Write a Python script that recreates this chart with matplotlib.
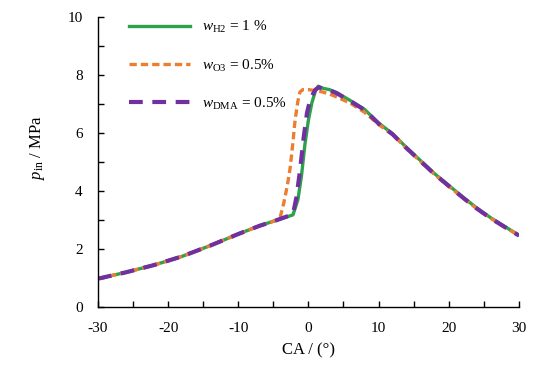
import matplotlib
matplotlib.use("Agg")
import matplotlib.pyplot as plt

plt.rcParams["font.family"] = "Liberation Serif"
plt.rcParams["mathtext.fontset"] = "custom"
plt.rcParams["mathtext.rm"] = "Liberation Serif"
plt.rcParams["mathtext.it"] = "Liberation Serif:italic"
plt.rcParams["axes.unicode_minus"] = False

# crank angle (deg) and in-cylinder pressure (MPa)
ca_h2 = [-30, -26, -22, -18, -14, -10, -7, -4.5, -2.2, -1.5, -1.0, -0.5, 0, 0.5, 1.0, 1.4,
         2, 3, 4, 6, 8, 10, 12, 14, 16, 18, 20, 22, 24, 26, 28, 30]
p_h2 = [0.98, 1.2, 1.45, 1.75, 2.12, 2.52, 2.8, 3.0, 3.18, 3.7, 4.5, 5.6, 6.45, 7.05, 7.45, 7.62,
        7.55, 7.5, 7.4, 7.12, 6.82, 6.35, 5.98, 5.5, 5.05, 4.6, 4.2, 3.8, 3.42, 3.08, 2.78, 2.48]

ca_o3 = [-30, -26, -22, -18, -14, -10, -7, -4.5, -4.0, -3.5, -3.0, -2.6, -2.2, -1.9, -1.5, -1.2,
         -0.8, 0, 1.2, 2, 3, 4, 6, 8, 10, 12, 14, 16, 18, 20, 22, 24, 26, 28, 30]
p_o3 = [0.98, 1.2, 1.45, 1.75, 2.12, 2.52, 2.8, 3.0, 3.12, 3.6, 4.2, 4.8, 5.7, 6.45, 7.1, 7.42,
        7.5, 7.5, 7.46, 7.42, 7.35, 7.25, 7.03, 6.72, 6.3, 5.95, 5.47, 5.02, 4.57, 4.17, 3.77, 3.4, 3.06, 2.76, 2.47]

ca_dma = [-30, -26, -22, -18, -14, -10, -7, -4.5, -2.2, -1.7, -1.2, -0.7, -0.2, 0.3, 1.0, 1.5,
          2, 3, 4, 6, 8, 10, 12, 14, 16, 18, 20, 22, 24, 26, 28, 30]
p_dma = [0.98, 1.2, 1.45, 1.75, 2.12, 2.52, 2.8, 3.0, 3.2, 3.8, 4.7, 5.8, 6.7, 7.2, 7.5, 7.58,
         7.53, 7.48, 7.38, 7.1, 6.8, 6.33, 5.96, 5.48, 5.03, 4.58, 4.18, 3.78, 3.4, 3.06, 2.76, 2.47]

fig = plt.figure(figsize=(5.49, 3.81), dpi=100)
ax = fig.add_axes([0.1785, 0.194, 0.7665, 0.761])

ax.plot(ca_h2, p_h2, color="#2ca24c", lw=2.4, label=r"$w_{\rm H2}$ = 1 %")
ax.plot(ca_o3, p_o3, color="#ed7d31", lw=2.4, dashes=(2.2, 1.2), label=r"$w_{\rm O3}$ = 0.5%")
ax.plot(ca_dma, p_dma, color="#7030a0", lw=3.0, dashes=(3.3, 2.3), label=r"$w_{\rm DMA}$ = 0.5%")

ax.set_xlim(-30, 30)
ax.set_ylim(0, 10)
ax.set_xticks(range(-30, 31, 10))
ax.set_xticks(range(-25, 30, 10), minor=True)
ax.set_yticks(range(0, 11, 2))
ax.set_yticks(range(1, 10, 2), minor=True)
ax.tick_params(which="both", direction="in", length=4, width=1, labelsize=11, colors="black")
ax.tick_params(axis="x", pad=11)
ax.tick_params(axis="y", pad=11)

for s in ["top", "right"]:
    ax.spines[s].set_visible(False)
for s in ["left", "bottom"]:
    ax.spines[s].set_linewidth(1)

ax.set_xlabel("CA / (°)", fontsize=12, labelpad=5)
ax.set_ylabel(r"$p_{\rm in}$ / MPa", fontsize=12)
ax.yaxis.set_label_coords(-0.12, 0.55)

ax.legend(loc="upper left", bbox_to_anchor=(0.04, 1.04), frameon=False, fontsize=11,
          handlelength=4.0, handletextpad=0.8, labelspacing=1.45)

fig.savefig("out.png", dpi=100)
